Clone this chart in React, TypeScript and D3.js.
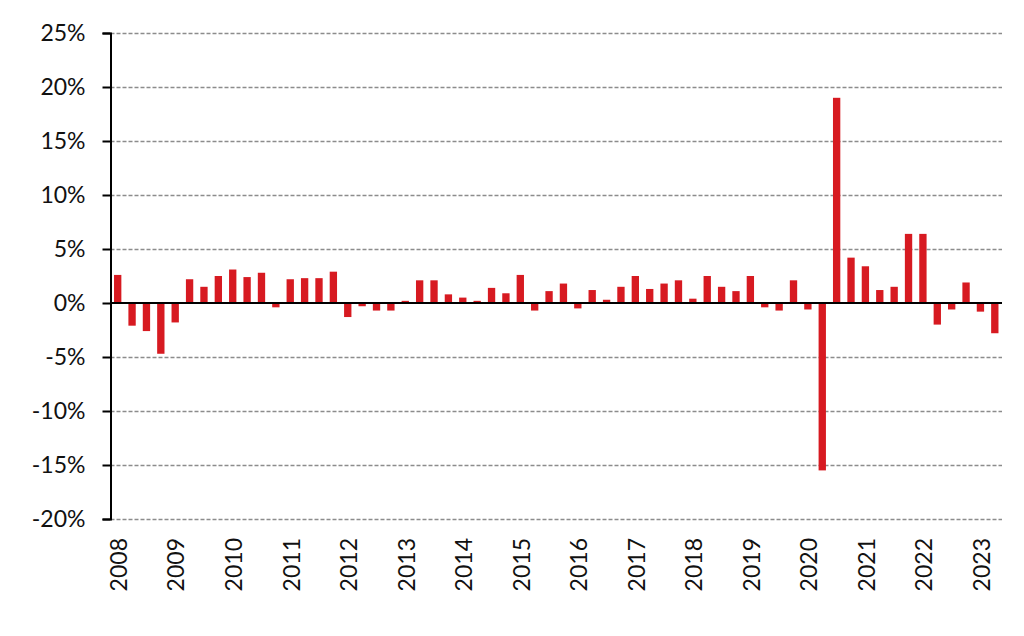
import * as d3 from "d3";
import React, { useEffect, useRef } from "react";

// quarterly change, 2008 Q1 .. 2023 Q2 (%)
const years = d3.range(2008, 2024).map(String);
const quarters = ["Q1", "Q2", "Q3", "Q4"];
const values = [
  2.6, -2.1, -2.6, -4.7,
  -1.8, 2.2, 1.5, 2.5,
  3.1, 2.4, 2.8, -0.4,
  2.2, 2.3, 2.3, 2.9,
  -1.3, -0.3, -0.7, -0.7,
  0.2, 2.1, 2.1, 0.8,
  0.5, 0.2, 1.4, 0.9,
  2.6, -0.7, 1.1, 1.8,
  -0.5, 1.2, 0.3, 1.5,
  2.5, 1.3, 1.8, 2.1,
  0.4, 2.5, 1.5, 1.1,
  2.5, -0.4, -0.7, 2.1,
  -0.6, -15.5, 19.0, 4.2,
  3.4, 1.2, 1.5, 6.4,
  6.4, -2.0, -0.6, 1.9,
  -0.8, -2.8,
];
const yTicks = [-20, -15, -10, -5, 0, 5, 10, 15, 20, 25];

const periods = values.map((_, i) => `${years[Math.floor(i / 4)]} ${quarters[i % 4]}`);

export default function App() {
  const ref = useRef<SVGSVGElement | null>(null);

  useEffect(() => {
    const svg = d3.select(ref.current);
    svg.selectAll("*").remove();

    const width = 1024;
    const height = 636;
    const margin = { top: 33, right: 22, bottom: 117, left: 110.5 };
    const font = "Lato, 'Open Sans', sans-serif";

    const x = d3
      .scaleBand()
      .domain(periods)
      .range([margin.left, width - margin.right])
      .paddingInner(0.49)
      .paddingOuter(0.245);

    const y = d3
      .scaleLinear()
      .domain([-20, 25])
      .range([height - margin.bottom, margin.top]);

    svg.attr("width", width).attr("height", height).attr("viewBox", `0 0 ${width} ${height}`);

    // gridlines
    svg
      .append("g")
      .selectAll("line")
      .data(yTicks.filter((t) => t !== 0))
      .enter()
      .append("line")
      .attr("x1", margin.left)
      .attr("x2", width - margin.right)
      .attr("y1", (d) => Math.round(y(d)) + 0.5)
      .attr("y2", (d) => Math.round(y(d)) + 0.5)
      .attr("stroke", "#8c8c8c")
      .attr("stroke-width", 1.3)
      .attr("stroke-dasharray", "4,2");

    // bars
    svg
      .append("g")
      .selectAll("rect")
      .data(values)
      .enter()
      .append("rect")
      .attr("x", (_, i) => x(periods[i])!)
      .attr("width", x.bandwidth())
      .attr("y", (d) => y(Math.max(0, d)))
      .attr("height", (d) => Math.abs(y(d) - y(0)))
      .attr("fill", "#d71a21");

    // zero line
    svg
      .append("line")
      .attr("x1", margin.left)
      .attr("x2", width - margin.right)
      .attr("y1", y(0))
      .attr("y2", y(0))
      .attr("stroke", "#000")
      .attr("stroke-width", 2);

    // y axis
    const yAxis = svg
      .append("g")
      .attr("transform", `translate(${margin.left},0)`)
      .call(
        d3
          .axisLeft(y)
          .tickValues(yTicks)
          .tickSize(8)
          .tickPadding(17)
          .tickFormat((d) => `${d}%`)
      );
    yAxis.select(".domain").attr("stroke", "#000").attr("stroke-width", 2);
    yAxis.selectAll(".tick line").attr("stroke", "#000").attr("stroke-width", 2);
    yAxis
      .selectAll(".tick text")
      .attr("font-family", font)
      .attr("font-size", 23)
      .attr("fill", "#111");

    // year labels, rotated, at each Q1
    svg
      .append("g")
      .selectAll("text")
      .data(years)
      .enter()
      .append("text")
      .attr(
        "transform",
        (d) => `translate(${x(`${d} Q1`)! + x.bandwidth() / 2 + 1},${y(-20) + 19}) rotate(-90)`
      )
      .attr("text-anchor", "end")
      .attr("dy", "0.36em")
      .attr("font-family", font)
      .attr("font-size", 23)
      .attr("fill", "#111")
      .text((d) => d);
  }, []);

  return <svg ref={ref} style={{ position: "absolute", left: 0, top: 0 }} />;
}
